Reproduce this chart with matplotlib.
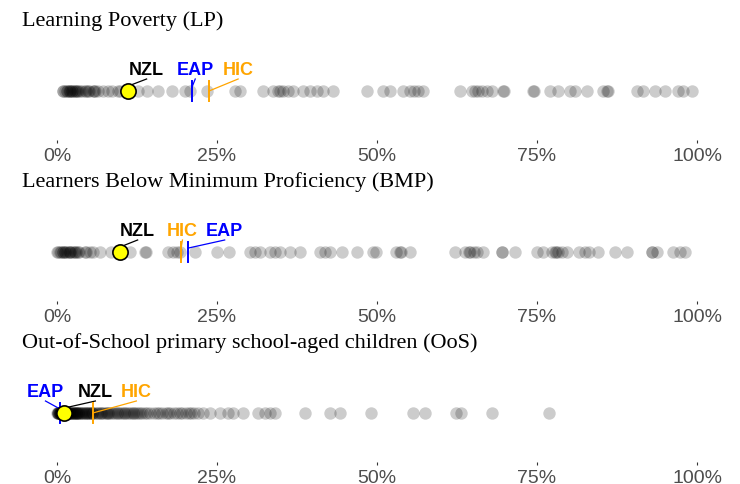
import matplotlib.pyplot as plt

# values in percent
lp_vals = [0.9, 1.0, 1.2, 1.5, 1.6, 1.8, 2.0, 2.1, 2.3, 2.4, 2.6, 2.8, 3.0, 3.1, 3.3,
           3.6, 3.9, 4.3, 4.6, 4.8, 5.0, 5.6, 5.8, 6.0, 6.4, 7.2, 8.0, 8.6, 9.5, 9.9,
           12.7, 14.1, 15.8, 18.0, 20.0, 20.8, 23.4, 27.8, 28.6, 32.2, 33.8, 34.5,
           34.9, 35.3, 36.1, 36.9, 38.4, 39.5, 40.6, 41.6, 43.1, 48.4, 51.0, 52.0,
           54.0, 55.2, 55.8, 56.4, 57.2, 63.0, 64.8, 65.3, 65.8, 66.4, 67.2, 67.9,
           69.7, 69.9, 74.4, 74.6, 77.0, 78.3, 80.2, 80.9, 82.8, 85.3, 86.1, 86.0,
           90.6, 91.6, 93.4, 95.0, 97.0, 97.8, 99.2]
bmp_vals = [0.0, 0.2, 0.4, 0.7, 0.9, 1.0, 1.2, 1.3, 1.5, 1.8, 2.0, 2.1, 2.3, 2.6,
            2.8, 3.0, 3.3, 3.5, 4.4, 4.6, 5.2, 5.7, 6.7, 8.5, 11.4, 13.8, 13.9,
            17.4, 18.2, 18.7, 19.2, 21.6, 25.0, 26.8, 30.2, 30.9, 31.7, 33.3, 34.1,
            34.8, 36.4, 37.9, 41.1, 41.9, 42.7, 44.5, 46.8, 49.4, 49.9, 53.0, 53.6,
            53.8, 55.2, 62.2, 63.8, 64.3, 64.5, 65.1, 65.6, 66.6, 69.5, 69.6, 71.6,
            75.0, 76.0, 77.3, 77.8, 78.0, 78.3, 78.9, 79.7, 81.5, 82.5, 83.1, 84.6,
            87.2, 89.0, 92.9, 93.0, 93.7, 96.3, 97.3, 98.1]
oos_vals = [0.0, 0.1, 0.1, 0.2, 0.2, 0.3, 0.3, 0.4, 0.4, 0.5, 0.5, 0.6, 0.6, 0.7,
            0.7, 0.8, 0.8, 0.9, 0.9, 1.0, 1.0, 1.1, 1.2, 1.3, 1.3, 1.4, 1.5, 1.6,
            1.7, 1.8, 1.9, 2.0, 2.1, 2.2, 2.3, 2.4, 2.5, 2.6, 2.7, 2.8, 2.9, 3.0,
            3.1, 3.2, 3.3, 3.4, 3.5, 3.7, 3.8, 4.0, 4.1, 4.3, 4.5, 4.6, 4.8, 4.9,
            5.1, 5.2, 5.4, 5.5, 5.7, 6.0, 6.2, 6.4, 6.7, 6.9, 7.1, 7.3, 7.6, 7.8,
            8.0, 8.2, 8.5, 8.8, 9.0, 9.3, 9.6, 9.9, 10.2, 10.4, 10.7, 11.0, 11.3,
            11.5, 11.8, 12.1, 12.3, 12.6, 13.0, 13.3, 13.7, 14.0, 14.5, 15.2, 15.6,
            16.0, 16.4, 17.0, 17.3, 17.6, 18.3, 18.8, 19.2, 19.5, 20.1, 20.7, 21.0,
            21.4, 22.1, 22.8, 23.9, 25.5, 26.7, 27.5, 29.1, 31.4, 32.5, 33.3, 34.1,
            38.8, 42.7, 44.2, 49.0, 55.7, 57.5, 62.4, 63.2, 67.9, 76.8]

titles = ["Learning Poverty (LP)",
          "Learners Below Minimum Proficiency (BMP)",
          "Out-of-School primary school-aged children (OoS)"]
all_vals = [lp_vals, bmp_vals, oos_vals]
nzl = [11.1, 9.8, 1.1]
eap = [21.1, 20.5, 0.5]
hic = [23.75, 19.3, 5.6]
# label x positions (percent) for NZL, EAP, HIC
nzl_lab = [14.0, 12.6, 6.0]
eap_lab = [21.6, 26.2, -1.8]
hic_lab = [28.3, 19.6, 12.4]

ticks = [0, 25, 50, 75, 100]
tick_labels = ["0%", "25%", "50%", "75%", "100%"]

W, H = 740, 484
fig = plt.figure(figsize=(W / 100, H / 100), dpi=100)

rows = [91, 252, 413]
for i, row in enumerate(rows):
    ax = fig.add_axes([25 / W, (H - row - 49) / H, 704 / W, 98 / H])
    ax.set_xlim(-5, 105)
    ax.set_ylim(-1, 1)
    for s in ax.spines.values():
        s.set_visible(False)
    ax.set_yticks([])
    ax.set_xticks(ticks)
    ax.set_xticklabels(tick_labels, fontsize=14, color="#4D4D4D", family="Liberation Sans")
    ax.tick_params(axis="x", length=2.5, width=0.8, color="#333333", pad=3)

    vals = all_vals[i]
    ax.scatter(vals, [0] * len(vals), s=80, color="black", alpha=0.2, linewidths=0, zorder=1)

    # EAP / HIC lines
    ax.plot([eap[i], eap[i]], [-0.2, 0.2], color="blue", lw=1.4, zorder=3)
    ax.plot([hic[i], hic[i]], [-0.2, 0.2], color="orange", lw=1.4, zorder=3)

    ax.scatter([nzl[i]], [0], s=120, color="yellow", edgecolors="black", linewidths=1.2, zorder=4)

    ly = 0.41
    for lab, px, lx, col, sy in [("NZL", nzl[i], nzl_lab[i], "black", 0.1),
                                  ("EAP", eap[i], eap_lab[i], "blue", 0.08),
                                  ("HIC", hic[i], hic_lab[i], "orange", 0.0)]:
        ax.plot([px, lx], [sy, 0.245], color=col, lw=0.9, zorder=2)
        ax.text(lx, ly, lab, color=col, fontsize=13, fontweight="bold",
                family="Liberation Sans", ha="center", va="center", zorder=5)

    fig.text(22 / W, 1 - (row - 70) / H, titles[i], fontsize=16,
             family="Liberation Serif", ha="left", va="center")

fig.savefig("out.png", dpi=100)
